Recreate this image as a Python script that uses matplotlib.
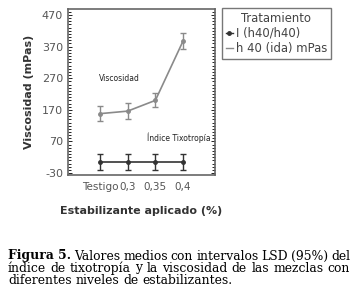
import matplotlib
matplotlib.use("Agg")
import matplotlib.pyplot as plt
from matplotlib.ticker import MultipleLocator
from matplotlib.lines import Line2D

plt.rcParams["axes.unicode_minus"] = False

# Datos
niveles = ["Testigo", "0,3", "0,35", "0,4"]
viscosidad = [158, 166, 200, 388]
viscosidad_err = [24, 25, 22, 25]
indice = [5, 5, 5, 5]
indice_err = [24, 24, 24, 24]
yticks = [-30, 70, 170, 270, 370, 470]

W, H = 357, 305
fig = plt.figure(figsize=(W / 100, H / 100), dpi=100)
ax = fig.add_axes([68 / W, 1 - 175 / H, (215 - 68) / W, (175 - 9) / H])

x = list(range(len(niveles)))
ax.errorbar(x, viscosidad, yerr=viscosidad_err, color="#8a8a8a", lw=1.2,
            marker="o", ms=2.5, capsize=2.5, elinewidth=1, capthick=1)
ax.errorbar(x, indice, yerr=indice_err, color="#333333", lw=1.2,
            marker="o", ms=2.5, capsize=2.5, elinewidth=1, capthick=1)

ax.set_xlim(-1.15, 4.15)
ax.set_ylim(-36, 489)
ax.set_xticks(x)
ax.set_xticklabels(niveles)
ax.set_yticks(yticks)
ax.yaxis.set_minor_locator(MultipleLocator(10))
ax.tick_params(axis="y", which="both", right=True, direction="in",
               labelsize=8, labelcolor="#555555", length=2, width=0.6)
ax.tick_params(axis="y", which="major", length=3)
ax.tick_params(axis="x", length=0, labelsize=7.5, labelcolor="#555555", pad=5)
for s in ax.spines.values():
    s.set_color("#666666")
    s.set_linewidth(1.2)

ax.text(-0.05, 260, "Viscosidad", fontsize=5.5, color="#222222")
ax.text(1.7, 72, "Índice Tixotropía", fontsize=5.5, color="#222222")
ax.set_ylabel("Viscosidad (mPas)", fontsize=8, fontweight="bold",
              color="#333333", labelpad=6)
ax.set_xlabel("Estabilizante aplicado (%)", fontsize=8, fontweight="bold",
              color="#333333", labelpad=10)

handles = [Line2D([], [], color="#333333", marker="o", ms=2.5, lw=1),
           Line2D([], [], color="#8a8a8a", lw=1)]
leg = fig.legend(handles, ["I (h40/h40)", "h 40 (ida) mPas"], title="Tratamiento",
                 loc="upper left", bbox_to_anchor=(222 / W, 1 - 8 / H),
                 fontsize=8.4, title_fontsize=8.4, frameon=True, fancybox=False,
                 edgecolor="#555555", handlelength=0.6, handletextpad=0.3,
                 borderpad=0.3, labelspacing=0.2, alignment="center",
                 borderaxespad=0)
for t in leg.get_texts():
    t.set_color("#444444")
leg.get_title().set_color("#444444")

# Pie de figura justificado
serif = ["DejaVu Serif"]
lineas = [
    [("Figura 5.", "bold"), "Valores", "medios", "con", "intervalos", "LSD", "(95%)", "del"],
    ["índice", "de", "tixotropía", "y", "la", "viscosidad", "de", "las", "mezclas", "con"],
    ["diferentes", "niveles", "de", "estabilizantes."],
]
ys = [256, 268, 281]
x0, x1 = 8, 350
renderer = fig.canvas.get_renderer()
for i, (palabras, yy) in enumerate(zip(lineas, ys)):
    objs = []
    for p in palabras:
        peso = "normal"
        if isinstance(p, tuple):
            p, peso = p
        t = fig.text(0, 1 - yy / H, p, fontsize=8.9, family=serif,
                     fontweight=peso, va="center")
        objs.append(t)
    anchos = [t.get_window_extent(renderer).width for t in objs]
    if i < len(lineas) - 1:
        hueco = (x1 - x0 - sum(anchos)) / (len(objs) - 1)
    else:
        hueco = 4.0
    pos = x0
    for t, a in zip(objs, anchos):
        t.set_x(pos / W)
        pos += a + hueco

fig.savefig("out.png", dpi=100)
